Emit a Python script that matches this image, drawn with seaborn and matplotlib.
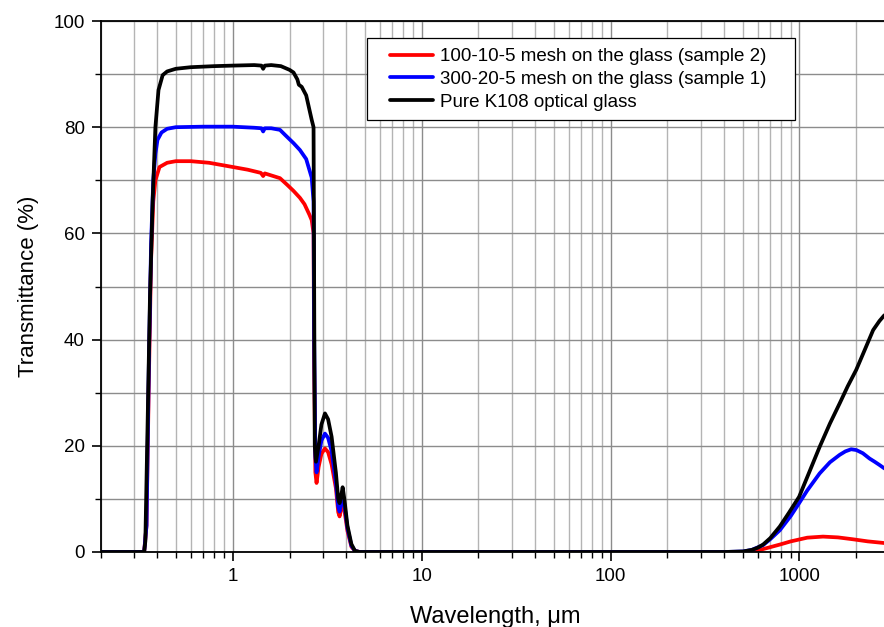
import numpy as np
import pandas as pd
import matplotlib
matplotlib.use("Agg")
import matplotlib.pyplot as plt
from matplotlib.patches import Rectangle
from matplotlib.ticker import LogLocator, FixedLocator, FuncFormatter, NullFormatter
import seaborn as sns

# --- data ---
series_names = ["100-10-5 mesh on the glass (sample 2)",
                "300-20-5 mesh on the glass (sample 1)",
                "Pure K108 optical glass"]
series_colors = ["#ff0000", "#0000ff", "#000000"]

wl_red = [0.2, 0.34, 0.35, 0.36, 0.37, 0.38, 0.39, 0.41, 0.45, 0.5, 0.6, 0.75, 0.9, 1.2,
          1.41, 1.45, 1.48, 1.78, 1.95, 2.1, 2.27, 2.4, 2.55, 2.62, 2.68, 2.70, 2.74, 2.78,
          2.85, 2.95, 3.08, 3.2, 3.34, 3.52, 3.62, 3.68, 3.75, 3.82, 3.9, 4.05, 4.25, 4.44,
          4.7, 10, 100, 400, 560, 650, 787, 900, 1100, 1333, 1600, 1913, 2300, 2793, 3000]
t_red = [0, 0, 5, 32, 55, 66, 70, 72.5, 73.3, 73.6, 73.6, 73.3, 72.8, 72.0,
         71.4, 70.8, 71.3, 70.4, 69.1, 68.0, 66.7, 65.5, 63.5, 62.5, 60, 35, 15, 13,
         16, 18.5, 19.5, 18.8, 16.5, 12, 7.5, 6.7, 8, 10, 8, 4, 1, 0.2,
         0, 0, 0, 0, 0, 0.6, 1.4, 2.0, 2.7, 2.9, 2.75, 2.4, 2.0, 1.7, 1.6]

wl_blue = [0.2, 0.34, 0.35, 0.36, 0.37, 0.38, 0.39, 0.40, 0.42, 0.45, 0.5, 0.7, 1.0, 1.3,
           1.42, 1.45, 1.48, 1.6, 1.78, 1.9, 2.1, 2.27, 2.45, 2.62, 2.68, 2.70, 2.74, 2.78,
           2.85, 2.95, 3.08, 3.2, 3.34, 3.52, 3.62, 3.68, 3.75, 3.82, 3.9, 4.05, 4.25, 4.44,
           4.7, 10, 100, 400, 503, 560, 642, 700, 787, 900, 996, 1100, 1279, 1450, 1633,
           1750, 1878, 2000, 2165, 2350, 2500, 2650, 2800, 3000]
t_blue = [0, 0, 5, 35, 58, 70, 75, 77.6, 79, 79.7, 80, 80.1, 80.1, 79.9,
          79.8, 79.2, 79.8, 79.8, 79.5, 78.5, 77, 75.7, 74, 70.5, 66, 40, 18, 15,
          18, 21, 22.3, 21.5, 19, 13, 8.5, 7.6, 9, 11, 9, 4.5, 1.2, 0.2,
          0, 0, 0, 0, 0.1, 0.4, 1.3, 2.4, 4.1, 6.8, 9.2, 11.6, 14.8, 16.9, 18.3,
          18.95, 19.35, 19.2, 18.6, 17.6, 17.0, 16.4, 15.8, 15.2]

wl_black = [0.2, 0.30, 0.340, 0.345, 0.355, 0.365, 0.377, 0.39, 0.405, 0.426, 0.45, 0.5,
            0.6, 0.8, 1.0, 1.3, 1.42, 1.45, 1.48, 1.6, 1.8, 2.0, 2.1, 2.2, 2.24, 2.32,
            2.45, 2.62, 2.68, 2.70, 2.72, 2.76, 2.85, 2.95, 3.08, 3.2, 3.34, 3.52, 3.62,
            3.68, 3.75, 3.82, 3.9, 4.05, 4.25, 4.44, 4.7, 10, 100, 400, 503, 560, 600, 642,
            700, 787, 880, 996, 1120, 1279, 1450, 1633, 1800, 1997, 2200, 2455, 2650, 2800,
            3000]
t_black = [0, 0, 0, 2, 25, 48, 66, 80, 87, 89.8, 90.5, 91.0,
           91.3, 91.5, 91.6, 91.7, 91.6, 91.0, 91.6, 91.7, 91.5, 90.8, 90.3, 89, 88, 87.6,
           86, 81.4, 80, 50, 20, 17, 20, 24, 26.1, 25, 21.7, 14.9, 10,
           9.2, 10.5, 12.2, 10, 5, 1.5, 0.2, 0, 0, 0, 0, 0.1, 0.4, 0.8, 1.4,
           2.6, 4.8, 7.4, 10.4, 14.8, 19.8, 24.2, 28.0, 31.2, 34.3, 37.8, 41.8, 43.5, 44.5,
           45.3]

df = pd.concat([
    pd.DataFrame({"wl": wl_red, "T": t_red, "sample": series_names[0]}),
    pd.DataFrame({"wl": wl_blue, "T": t_blue, "sample": series_names[1]}),
    pd.DataFrame({"wl": wl_black, "T": t_black, "sample": series_names[2]}),
], ignore_index=True)

sns.set_style("ticks")
plt.rcParams["font.family"] = ["Liberation Sans", "DejaVu Sans"]
plt.rcParams["text.color"] = "black"
plt.rcParams["axes.labelcolor"] = "black"
plt.rcParams["xtick.color"] = "black"
plt.rcParams["ytick.color"] = "black"

fig = plt.figure(figsize=(8.84, 6.27), dpi=100)
ax = fig.add_axes([100.6 / 884, 1 - 552 / 627, 789 / 884, 531 / 627])

sns.lineplot(data=df, x="wl", y="T", hue="sample", hue_order=series_names,
             palette=series_colors, estimator=None, sort=False, linewidth=2.7, ax=ax)

ax.set_xscale("log")
ax.set_xlim(0.2, 3000)
ax.set_ylim(0, 100)

ax.xaxis.set_major_locator(FixedLocator([1, 10, 100, 1000]))
ax.xaxis.set_major_formatter(FuncFormatter(lambda v, p: f"{v:g}"))
ax.xaxis.set_minor_locator(LogLocator(base=10, subs=np.arange(2, 10), numticks=20))
ax.xaxis.set_minor_formatter(NullFormatter())
ax.yaxis.set_major_locator(FixedLocator([0, 20, 40, 60, 80, 100]))
ax.yaxis.set_minor_locator(FixedLocator([10, 30, 50, 70, 90]))

ax.grid(True, which="major", axis="both", color="#8c8c8c", linewidth=1.0)
ax.grid(True, which="minor", axis="x", color="#b4b4b4", linewidth=1.0)
ax.grid(True, which="minor", axis="y", color="#8c8c8c", linewidth=1.0)
ax.set_axisbelow(True)

ax.tick_params(axis="both", which="major", direction="out", length=6.5, width=1.2,
               labelsize=13.5, color="black", labelcolor="black", pad=5)
ax.tick_params(axis="both", which="minor", direction="out", length=4, width=1.0,
               color="black")
for s in ax.spines.values():
    s.set_color("black")
    s.set_linewidth(1.3)

ax.set_xlabel("Wavelength, μm", fontsize=17, color="black")
ax.xaxis.set_label_coords(0.5, -(606 - 552) / 531)
ax.set_ylabel("Transmittance (%)", fontsize=16, color="black")
ax.yaxis.set_label_coords((39 - 100.6) / 789, 0.5)

# legend: frameless text block plus a square box drawn around it
leg = ax.legend(loc="upper left", bbox_to_anchor=(390 / 884, 1 - 48 / 627),
                bbox_transform=fig.transFigure, fontsize=13.5, frameon=False,
                handlelength=2.3, handletextpad=0.37, labelspacing=0.3,
                borderpad=0, borderaxespad=0, title=None)
leg.set_zorder(6)
for t in leg.get_texts():
    t.set_color("black")
box = Rectangle((367 / 884, 1 - 120 / 627), 428 / 884, 82 / 627,
                transform=fig.transFigure, facecolor="white", edgecolor="black",
                linewidth=0.9, zorder=5, clip_on=False)
ax.add_patch(box)

fig.savefig("out.png", dpi=100)
